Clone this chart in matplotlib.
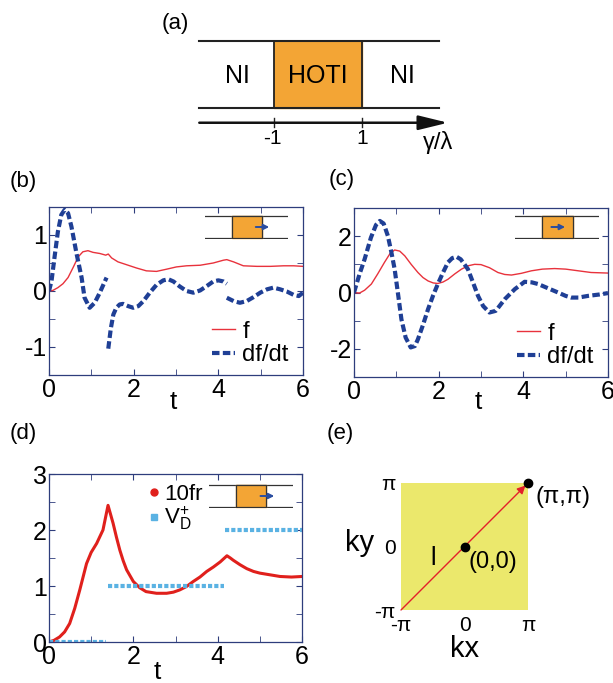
import numpy as np
import matplotlib.pyplot as plt
from matplotlib.lines import Line2D
from matplotlib.ticker import MultipleLocator, NullFormatter

# ---- data ----
# (b) f and df/dt, edge moving out of the HOTI region
tb_f = [0, 0.09, 0.21, 0.33, 0.45, 0.57, 0.69, 0.80, 0.92, 1.04, 1.20, 1.34, 1.40, 1.48,
        1.63, 1.83, 2.07, 2.30, 2.54, 2.78, 3.01, 3.25, 3.57, 3.88, 4.12, 4.20, 4.36,
        4.59, 4.91, 5.23, 5.54, 5.78, 6.0]
fb = [0, 0.01, 0.06, 0.13, 0.24, 0.42, 0.61, 0.70, 0.72, 0.69, 0.67, 0.64, 0.66, 0.59,
      0.52, 0.47, 0.41, 0.36, 0.35, 0.39, 0.43, 0.45, 0.46, 0.50, 0.55, 0.56, 0.52,
      0.45, 0.44, 0.44, 0.45, 0.45, 0.44]
# nan marks the jumps of df/dt
tb_df = [0, 0.06, 0.13, 0.21, 0.29, 0.37, 0.45, 0.53, 0.65, 0.77, 0.84, 0.96, 1.08, 1.20, 1.36,
         np.nan,
         1.40, 1.46, 1.52, 1.59, 1.67, 1.75, 1.87, 1.99, 2.11, 2.23, 2.38, 2.54, 2.70, 2.82,
         2.94, 3.09, 3.25, 3.41, 3.57, 3.73, 3.88, 4.00, 4.12, 4.20,
         np.nan,
         4.20, 4.36, 4.51, 4.67, 4.83, 4.99, 5.15, 5.30, 5.46, 5.62, 5.78, 5.90, 6.0]
dfb = [0, 0.18, 0.60, 1.06, 1.36, 1.45, 1.39, 1.15, 0.67, 0.24, -0.12, -0.30, -0.21, -0.03, 0.24,
       np.nan,
       -1.03, -0.67, -0.42, -0.30, -0.24, -0.23, -0.27, -0.30, -0.27, -0.18, -0.03, 0.11, 0.19, 0.21,
       0.17, 0.08, 0.0, -0.03, 0.01, 0.09, 0.17, 0.19, 0.17, 0.13,
       np.nan,
       -0.12, -0.18, -0.21, -0.18, -0.11, -0.03, 0.03, 0.06, 0.03, -0.01, -0.07, -0.09, -0.03]

# (c) f and df/dt, edge moving inside the HOTI region
tc_f = [0, 0.13, 0.25, 0.41, 0.56, 0.72, 0.85, 0.96, 1.08, 1.20, 1.35, 1.51, 1.63, 1.75, 1.87,
        1.98, 2.10, 2.22, 2.38, 2.54, 2.70, 2.85, 3.00, 3.20, 3.40, 3.56, 3.72, 3.95, 4.19,
        4.45, 4.74, 5.00, 5.30, 5.60, 6.0]
fc = [0, -0.02, 0.08, 0.30, 0.66, 1.07, 1.38, 1.51, 1.47, 1.30, 1.00, 0.71, 0.53, 0.41, 0.34,
      0.32, 0.37, 0.47, 0.66, 0.83, 0.95, 1.00, 0.99, 0.88, 0.71, 0.64, 0.62, 0.68, 0.77,
      0.83, 0.85, 0.83, 0.77, 0.71, 0.69]
tc_df = [0, 0.13, 0.25, 0.40, 0.52, 0.61, 0.70, 0.80, 0.88, 0.96, 1.04, 1.12, 1.22, 1.34, 1.44,
         1.51, 1.63, 1.75, 1.87, 1.98, 2.10, 2.22, 2.32, 2.42, 2.52, 2.60, 2.69, 2.80, 2.93,
         3.05, 3.20, 3.35, 3.56, 3.80, 4.03, 4.20, 4.35, 4.60, 4.82, 5.00, 5.13, 5.30, 5.53,
         5.80, 6.0]
dfc = [0, 0.65, 1.18, 1.95, 2.40, 2.54, 2.45, 2.01, 1.45, 0.83, -0.05, -0.95, -1.60, -1.95, -1.90,
       -1.66, -1.15, -0.59, -0.10, 0.30, 0.70, 1.07, 1.22, 1.27, 1.18, 1.02, 0.83, 0.40, -0.12,
       -0.48, -0.71, -0.65, -0.24, 0.12, 0.38, 0.36, 0.30, 0.14, 0.0, -0.12, -0.18, -0.18, -0.12,
       -0.07, -0.02]

# (d) 10 f r and the step function V_D^+
td = [0, 0.12, 0.25, 0.37, 0.49, 0.61, 0.73, 0.89, 1.00, 1.13, 1.28, 1.40, 1.46, 1.52, 1.60,
      1.68, 1.76, 1.84, 2.00, 2.15, 2.30, 2.55, 2.79, 2.95, 3.10, 3.26, 3.42, 3.58, 3.74,
      3.90, 4.06, 4.22, 4.30, 4.37, 4.53, 4.69, 4.85, 5.00, 5.24, 5.48, 5.75, 6.0]
fr10 = [0, 0.03, 0.09, 0.18, 0.33, 0.60, 0.93, 1.40, 1.60, 1.76, 2.00, 2.44, 2.28, 2.12, 1.87,
        1.64, 1.45, 1.29, 1.08, 0.97, 0.90, 0.87, 0.87, 0.89, 0.93, 0.99, 1.08, 1.16, 1.26,
        1.34, 1.43, 1.54, 1.50, 1.46, 1.38, 1.31, 1.26, 1.23, 1.20, 1.17, 1.16, 1.17]
vd_start = [0, 1.40, 4.18]
vd_end = [1.36, 4.14, 6.0]
vd_val = [0, 1, 2]

W, H = 613, 683
SPINE = "#2e3d7c"
RED = "#e8323c"
BLUE = "#1f3f95"
LBLUE = "#5ab2e3"
ORANGE = "#f3a535"
YELLOW = "#ebe86c"

plt.rcParams.update({
    "font.family": ["Liberation Sans", "DejaVu Sans"],
    "mathtext.fontset": "custom",
    "mathtext.rm": "Liberation Sans",
    "mathtext.it": "Liberation Sans",
    "axes.unicode_minus": False,
    "font.size": 17,
    "xtick.direction": "in", "ytick.direction": "in",
    "xtick.top": True, "ytick.right": True,
    "xtick.major.size": 4, "ytick.major.size": 4,
    "xtick.minor.size": 4, "ytick.minor.size": 4,
    "xtick.color": SPINE, "ytick.color": SPINE,
    "xtick.labelcolor": "black", "ytick.labelcolor": "black",
    "axes.edgecolor": SPINE, "axes.linewidth": 0.9,
    "xtick.major.pad": 2, "ytick.major.pad": 1.5,
})


def box(x0, y0, x1, y1):
    # pixel box -> figure fraction
    return [x0 / W, 1 - y1 / H, (x1 - x0) / W, (y1 - y0) / H]


def inset(bounds, bx, arr):
    ia = fig.add_axes(box(*bounds))
    ia.set_xlim(0, 1)
    ia.set_ylim(-0.05, 1.05)
    ia.axis("off")
    for yy in (0, 1):
        ia.plot([0, 1], [yy, yy], color="#333333", lw=0.9)
    ia.fill_between(bx, 0, 1, color=ORANGE, zorder=2)
    ia.plot([bx[0], bx[0], bx[1], bx[1], bx[0]], [0, 1, 1, 0, 0], color="#333333", lw=0.9, zorder=3)
    ia.annotate("", xy=(arr[1], 0.5), xytext=(arr[0], 0.5),
                arrowprops=dict(arrowstyle="-|>", color="#2a4da0", lw=1.4, mutation_scale=8), zorder=4)


fig = plt.figure(figsize=(W / 100, H / 100), dpi=100)

# ---- (a) phase diagram ----
axa = fig.add_axes(box(150, 5, 470, 175))
axa.set_xlim(-3.82, 3.45)
axa.set_ylim(-1.0, 1.537)
axa.axis("off")
axa.plot([-2.70, 2.75], [1, 1], color="#222222", lw=1.5)
axa.plot([-2.70, 2.75], [0, 0], color="#222222", lw=1.5)
axa.fill_between([-1, 1], 0, 1, color=ORANGE, zorder=1)
axa.plot([-1, -1], [0, 1], color="#222222", lw=1.3)
axa.plot([1, 1], [0, 1], color="#222222", lw=1.3)
axa.annotate("", xy=(2.95, -0.22), xytext=(-2.70, -0.22),
             arrowprops=dict(arrowstyle="-|>,head_length=0.9,head_width=0.22", color="#111111",
                             lw=1.8, mutation_scale=20, shrinkA=0, shrinkB=0))
for xx, lab in [(-1, "-1"), (1, "1")]:
    axa.plot([xx, xx], [-0.15, -0.29], color="#222222", lw=1)
    axa.text(xx - 0.05 * (xx < 0), -0.45, lab, ha="center", va="center", fontsize=15)
axa.text(-1.84, 0.48, "NI", ha="center", va="center", fontsize=18)
axa.text(0, 0.48, "HOTI", ha="center", va="center", fontsize=18)
axa.text(1.91, 0.48, "NI", ha="center", va="center", fontsize=18)
axa.text(2.73, -0.52, "γ/λ", ha="center", va="center", fontsize=17)


def style_t(ax, ymaj, ymin, ylim):
    ax.set_xlim(0, 6)
    ax.set_ylim(*ylim)
    ax.xaxis.set_major_locator(MultipleLocator(2))
    ax.xaxis.set_minor_locator(MultipleLocator(1))
    ax.yaxis.set_major_locator(MultipleLocator(ymaj))
    ax.yaxis.set_minor_locator(MultipleLocator(ymin))
    ax.yaxis.set_minor_formatter(NullFormatter())
    ax.tick_params(which="both", top=True, right=True)
    ax.tick_params(labelsize=18)


# ---- (b) ----
axb = fig.add_axes(box(49, 207, 303, 375))
axb.plot(tb_f, fb, color=RED, lw=1.0, label="f")
axb.plot(tb_df, dfb, color=BLUE, lw=3.0, ls=(0, (1.8, 0.8)), label="df/dt")
style_t(axb, 1, 0.5, (-1.5, 1.5))
axb.legend(loc="lower right", bbox_to_anchor=(1.0, -0.03), frameon=False, fontsize=17,
           handlelength=1.0, handletextpad=0.3, labelspacing=0.05, borderaxespad=0.2)
axb.text(0.49, -0.16, "t", transform=axb.transAxes, ha="center", va="center", fontsize=19)
inset((205, 215, 288, 239), [0.325, 0.687], [0.578, 0.807])

# ---- (c) ----
axc = fig.add_axes(box(354, 208, 608, 377))
axc.plot(tc_f, fc, color=RED, lw=1.0, label="f")
axc.plot(tc_df, dfc, color=BLUE, lw=3.0, ls=(0, (1.8, 0.8)), label="df/dt")
style_t(axc, 2, 1, (-3, 3))
axc.legend(loc="lower right", bbox_to_anchor=(1.0, -0.03), frameon=False, fontsize=17,
           handlelength=1.0, handletextpad=0.3, labelspacing=0.05, borderaxespad=0.2)
axc.text(0.49, -0.15, "t", transform=axc.transAxes, ha="center", va="center", fontsize=19)
inset((515, 215, 599, 239), [0.325, 0.687], [0.40, 0.63])

# ---- (d) ----
axd = fig.add_axes(box(49, 474, 302, 642))
axd.plot(td, fr10, color="#e0201c", lw=2.2)
for s, e, v in zip(vd_start, vd_end, vd_val):
    axd.plot([s, e], [v, v], color=LBLUE, lw=3.0, ls=(0, (1.0, 0.5)))
style_t(axd, 1, 0.5, (0, 3))
hd = [Line2D([], [], marker="o", color="#e0201c", ls="none", ms=5),
      Line2D([], [], marker="s", color=LBLUE, ls="none", ms=4)]
axd.legend(hd, ["10fr", r"V$_\mathregular{D}^\mathregular{+}$"], loc="upper left",
           bbox_to_anchor=(0.34, 1.02), frameon=False, fontsize=16, handlelength=0.5,
           handletextpad=0.2, labelspacing=0.0, borderaxespad=0.2)
axd.text(0.43, -0.18, "t", transform=axd.transAxes, ha="center", va="center", fontsize=19)
inset((209, 484, 293, 508), [0.32, 0.68], [0.58, 0.81])

# ---- (e) Brillouin zone ----
axe = fig.add_axes(box(401, 483, 528, 610))
pi = np.pi
axe.set_xlim(-pi, pi)
axe.set_ylim(-pi, pi)
axe.set_facecolor(YELLOW)
for sp in axe.spines.values():
    sp.set_visible(False)
axe.set_xticks([-pi, 0, pi])
axe.set_yticks([-pi, 0, pi])
axe.set_xticklabels(["-π", "0", "π"])
axe.set_yticklabels(["-π", "0", "π"])
axe.tick_params(length=0, labelsize=15, top=False, right=False, pad=4)
axe.annotate("", xy=(pi * 0.96, pi * 0.96), xytext=(-pi, -pi),
             arrowprops=dict(arrowstyle="-|>", color="#e3202a", lw=1.0, mutation_scale=12,
                             shrinkA=0, shrinkB=0), annotation_clip=False)
axe.plot([0, pi], [0, pi], "o", color="black", ms=6, clip_on=False, zorder=5)
axe.text(0.5, -0.31, "kx", transform=axe.transAxes, ha="center", va="center", fontsize=21)
axe.text(-0.33, 0.53, "ky", transform=axe.transAxes, ha="center", va="center", fontsize=21)
axe.text(-0.50 * pi, -0.18 * pi, "l", ha="center", va="center", fontsize=18)
axe.text(0.45 * pi, -0.24 * pi, "(0,0)", ha="center", va="center", fontsize=17)
axe.text(1.55 * pi, 0.78 * pi, "(π,π)", ha="center", va="center", fontsize=17, clip_on=False)

# panel labels
for x, y, s in [(175, 24, "(a)"), (23, 182, "(b)"), (342, 180, "(c)"),
                (23, 433, "(d)"), (340, 434, "(e)")]:
    fig.text(x / W, 1 - y / H, s, ha="center", va="center", fontsize=16)

fig.savefig("out.png", dpi=100)
